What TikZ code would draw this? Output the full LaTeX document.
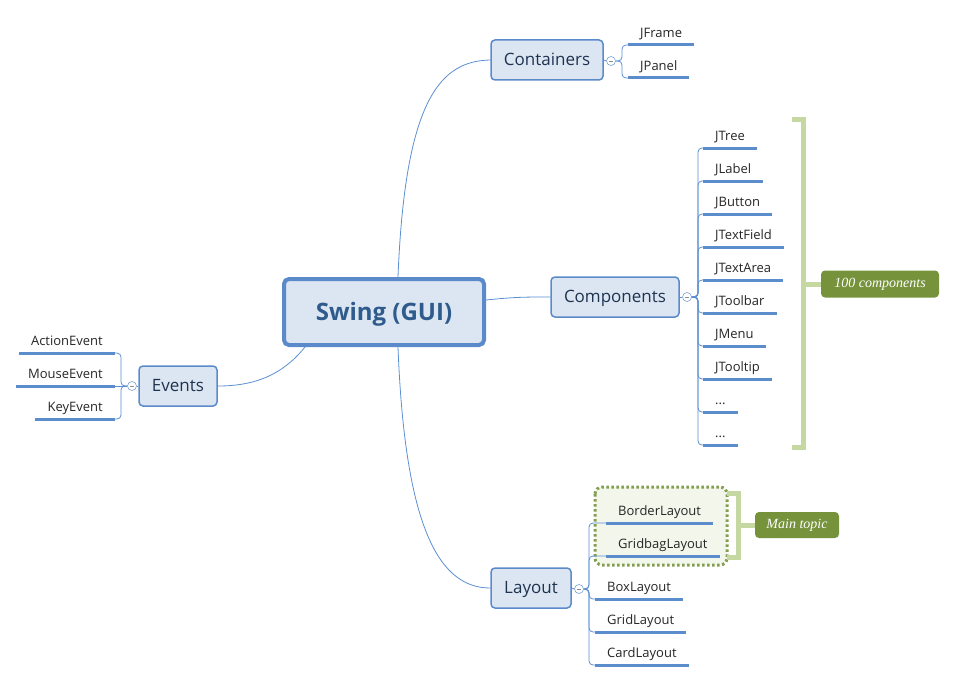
\documentclass[tikz,border=0pt]{standalone}
\usepackage{fontspec}
\setmainfont{Open Sans}
\newfontfamily\notefont{Liberation Serif}
\usetikzlibrary{calc}
\definecolor{topicfill}{HTML}{DCE6F2}
\definecolor{topicblue}{HTML}{5B8ACB}
\definecolor{swingtext}{HTML}{2F5A8C}
\definecolor{topictext}{HTML}{1F3350}
\definecolor{twigblue}{HTML}{5B8FD2}
\definecolor{stemblue}{HTML}{5B8CCB}
\definecolor{bracketgreen}{HTML}{C6D8A1}
\definecolor{noteolive}{HTML}{76933C}
\definecolor{focusfill}{HTML}{F3F6EB}
\newcommand\moredots{...}

\begin{document}
\begin{tikzpicture}[
    x=1pt, y=-1pt,
    central/.style={rectangle, rounded corners=5pt, draw=topicblue, fill=topicfill, line width=4pt,
        minimum width=200, minimum height=66, text=swingtext, text height=17.5pt, text depth=1pt,
        font=\fontsize{24}{28}\selectfont\bfseries},
    topic/.style={rectangle, rounded corners=4pt, draw=topicblue, fill=topicfill, line width=1.5pt,
        minimum height=40, inner xsep=0pt, text=topictext, text height=12pt, text depth=1pt,
        font=\fontsize{17}{20}\selectfont},
    toggle/.style={circle, draw=topicblue!80, fill=white, line width=0.6pt, minimum size=9, inner sep=0pt,
        path picture={\draw[black!45, line width=0.5pt] ([xshift=-2pt]path picture bounding box.center)
            -- ([xshift=2pt]path picture bounding box.center);}},
    leaf/.style={font=\fontsize{13}{15}\selectfont, text=black!85, inner xsep=12pt, inner ysep=0pt,
        text height=10pt, text depth=7pt,
        append after command={(\tikzlastnode.south west) edge[stem] (\tikzlastnode.south east)}},
    stem/.style={draw=stemblue, line width=3pt},
    branch/.style={draw=twigblue, line width=0.8pt},
    twig/.style={branch, rounded corners=4pt, to path={-| ([xshift=#1]\tikztotarget) -- (\tikztotarget)}},
    bracket/.style={draw=bracketgreen, line width=5pt},
    note/.style={rectangle, rounded corners=4pt, fill=noteolive, text=white, inner sep=0pt,
        font=\notefont\itshape\fontsize{14}{16}\selectfont},
    focus/.style={draw=noteolive!90, fill=focusfill, line width=3pt, dash pattern=on 2.5pt off 2.5pt,
        rounded corners=7pt}
]
\useasboundingbox (0,0) rectangle (955,682);

% main topics
\node[central] (swing) at (384,312) {Swing (GUI)};
\node[topic, minimum width=112] (containers) at (547,60) {Containers};
\node[topic, minimum width=128] (components) at (615,297) {Components};
\node[topic, minimum width=80] (layout) at (531,588) {Layout};
\node[topic, minimum width=78] (events) at (178,386) {Events};

\node[toggle] (cntT) at (611,61) {};
\node[toggle] (cmpT) at (687,297) {};
\node[toggle] (layT) at (579,589) {};
\node[toggle] (evtT) at (132,386) {};

\coordinate (swingTop) at (398,277);
\coordinate (swingBot) at (398,347);
\coordinate (swingLeft) at (305,347);
\coordinate (swingRight) at (486,300);

\draw[branch] (swingTop) .. controls (405,100) and (440,61) .. (containers.west);
\draw[branch] (swingRight) .. controls (515,297) and (525,297) .. (components.west);
\draw[branch] (swingBot) .. controls (405,530) and (440,588) .. (layout.west);
\draw[branch] (swingLeft) .. controls (280,378) and (250,386) .. (events.east);

\draw[branch] (containers.east) -- (cntT.west);
\draw[branch] (components.east) -- (cmpT.west);
\draw[branch] (layout.east) -- (layT.west);
\draw[branch] (events.west) -- (evtT.east);

% containers
\node[leaf, anchor=south west] (jframe) at (628,45) {JFrame};
\node[leaf, anchor=south west] (jpanel) at (628,78) {JPanel};
\draw[twig=-6pt] (cntT.east) to (jframe.south west);
\draw[twig=-6pt] (cntT.east) to (jpanel.south west);

% components
\foreach \name/\txt [count=\i] in {jtree/JTree, jlabel/JLabel, jbutton/JButton, jtextfield/JTextField,
    jtextarea/JTextArea, jtoolbar/JToolbar, jmenu/JMenu, jtooltip/JTooltip, more/\moredots, moremore/\moredots} {
  \node[leaf, anchor=south west] (\name) at (703,115+33*\i) {\txt};
  \draw[twig=-5pt] (cmpT.east) to (\name.south west);
}

\draw[bracket] (792,120) -- (803,120) -- (803,447) -- (792,447);
\coordinate (cmpMid) at (803,284);
\node[note, minimum width=118, minimum height=27] (cmpNote) at (880,284) {100 components};
\draw[bracket] (cmpMid) -- (cmpNote.west);

% layout
\draw[focus] (595,487) rectangle (727,565);
\node[leaf, anchor=south west] (border) at (606,523) {BorderLayout};
\node[leaf, anchor=south west] (gridbag) at (606,556) {GridbagLayout};
\node[leaf, anchor=south west] (box) at (595,599) {BoxLayout};
\node[leaf, anchor=south west] (grid) at (595,632) {GridLayout};
\node[leaf, anchor=south west] (card) at (595,665) {CardLayout};
\draw[twig=-17pt] (layT.east) to (border.south west);
\draw[twig=-17pt] (layT.east) to (gridbag.south west);
\draw[twig=-6pt] (layT.east) to (box.south west);
\draw[twig=-6pt] (layT.east) to (grid.south west);
\draw[twig=-6pt] (layT.east) to (card.south west);

\draw[bracket] (727,493) -- (738,493) -- (738,557) -- (727,557);
\coordinate (layMid) at (738,525);
\node[note, minimum width=84, minimum height=26] (layNote) at (797,525) {Main topic};
\draw[bracket] (layMid) -- (layNote.west);

% events
\node[leaf, anchor=south east] (action) at (115,353) {ActionEvent};
\node[leaf, anchor=south east] (mouse) at (115,386) {MouseEvent};
\node[leaf, anchor=south east] (key) at (115,419) {KeyEvent};
\draw[twig=6pt] (evtT.west) to (action.south east);
\draw[branch] (evtT.west) -- (mouse.south east);
\draw[twig=6pt] (evtT.west) to (key.south east);
\end{tikzpicture}
\end{document}
